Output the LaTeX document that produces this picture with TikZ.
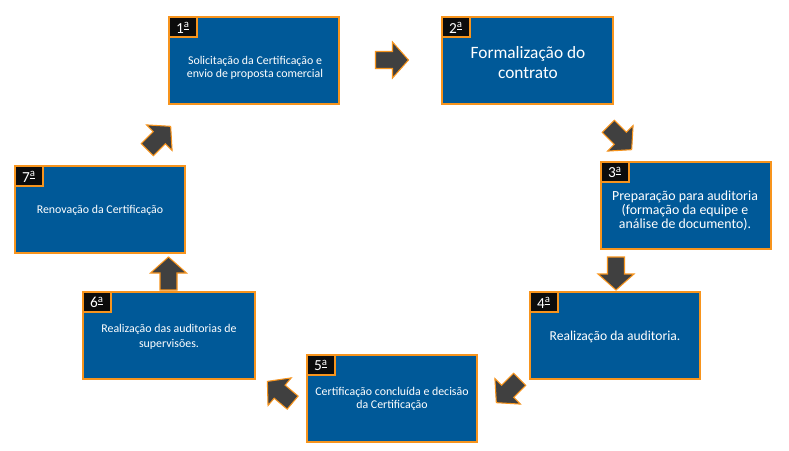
\documentclass[tikz,border=0pt]{standalone}
\usepackage{fontspec}
\setmainfont{Carlito}
\definecolor{boxblue}{RGB}{0,89,152}
\definecolor{boxorange}{RGB}{247,148,29}
\definecolor{arrowgray}{RGB}{64,64,64}
\definecolor{labelblack}{RGB}{12,12,12}
\tikzset{
  x=0.75pt, y=-0.75pt,
  stepbox/.style={draw=boxorange, line width=2pt, fill=boxblue},
  numbox/.style={draw=boxorange, line width=2pt, fill=labelblack},
  numtext/.style={text=white, font=\fontsize{11.5}{12}\selectfont, inner sep=0pt},
  steptext/.style={text=white, align=center, inner sep=0pt},
  blockarrow/.style={fill=arrowgray, draw=boxorange, line width=0.8pt, line join=miter},
}
\newcommand{\blockarrowat}[3]{%
  \begin{scope}[shift={(#1,#2)}, rotate=#3]
    \fill[blockarrow] (-16.5,-8.5) -- (0.5,-8.5) -- (0.5,-18) -- (16.5,0) -- (0.5,18) -- (0.5,8.5) -- (-16.5,8.5) -- cycle;
  \end{scope}}
\newcommand{\stepat}[6]{% name, x1,y1,x2,y2, number
  \path[stepbox] (#2,#3) rectangle (#4,#5);
  \coordinate (#1) at ($(#2,#3)!0.5!(#4,#5)$);
  \path[numbox] (#2,#3) rectangle ++(28,20);
  \node[numtext] (#1n) at ($(#2,#3)+(14,10.5)$) {#6\textsuperscript{\underline{a}}};}
\usetikzlibrary{calc}
\begin{document}
\begin{tikzpicture}
\useasboundingbox (0,0) rectangle (789,450);
\fill[white] (0,0) rectangle (789,450);
% boxes
\stepat{s1}{169}{17}{339}{104}{1}
\stepat{s2}{442}{17}{613}{104}{2}
\stepat{s3}{601}{162}{771}{249}{3}
\stepat{s4}{530}{292}{700}{379}{4}
\stepat{s5}{307}{355}{477}{442}{5}
\stepat{s6}{83}{292}{255}{379}{6}
\stepat{s7}{15}{166}{185}{253}{7}
% texts
\node[steptext, font=\fontsize{8.9}{9.5}\selectfont] (t1) at (255,68) {Solicitação da Certificação e\\envio de proposta comercial};
\node[steptext, font=\fontsize{13}{14.5}\selectfont] (t2) at (528,62.5) {Formalização do\\contrato};
\node[steptext, font=\fontsize{10.4}{10.5}\selectfont] (t3) at (685,210.5) {Preparação para auditoria\\(formação da equipe e\\análise de documento).};
\node[steptext, font=\fontsize{10.2}{11}\selectfont] (t4) at (615,337) {Realização da auditoria.};
\node[steptext, font=\fontsize{8.9}{9.5}\selectfont] (t5) at (392,399) {Certificação concluída e decisão\\da Certificação};
\node[steptext, font=\fontsize{8.9}{11}\selectfont] (t6) at (169,337) {Realização das auditorias de\\supervisões.};
\node[steptext, font=\fontsize{8.9}{9.5}\selectfont] (t7) at (100,210) {Renovação da Certificação};
% arrows
\blockarrowat{392}{60}{0}
\blockarrowat{620}{138}{-45}
\blockarrowat{616}{273.5}{-90}
\blockarrowat{508}{391}{-135}
\blockarrowat{280}{392}{140}
\blockarrowat{168.5}{273.5}{90}
\blockarrowat{159}{138}{45}
\end{tikzpicture}
\end{document}
